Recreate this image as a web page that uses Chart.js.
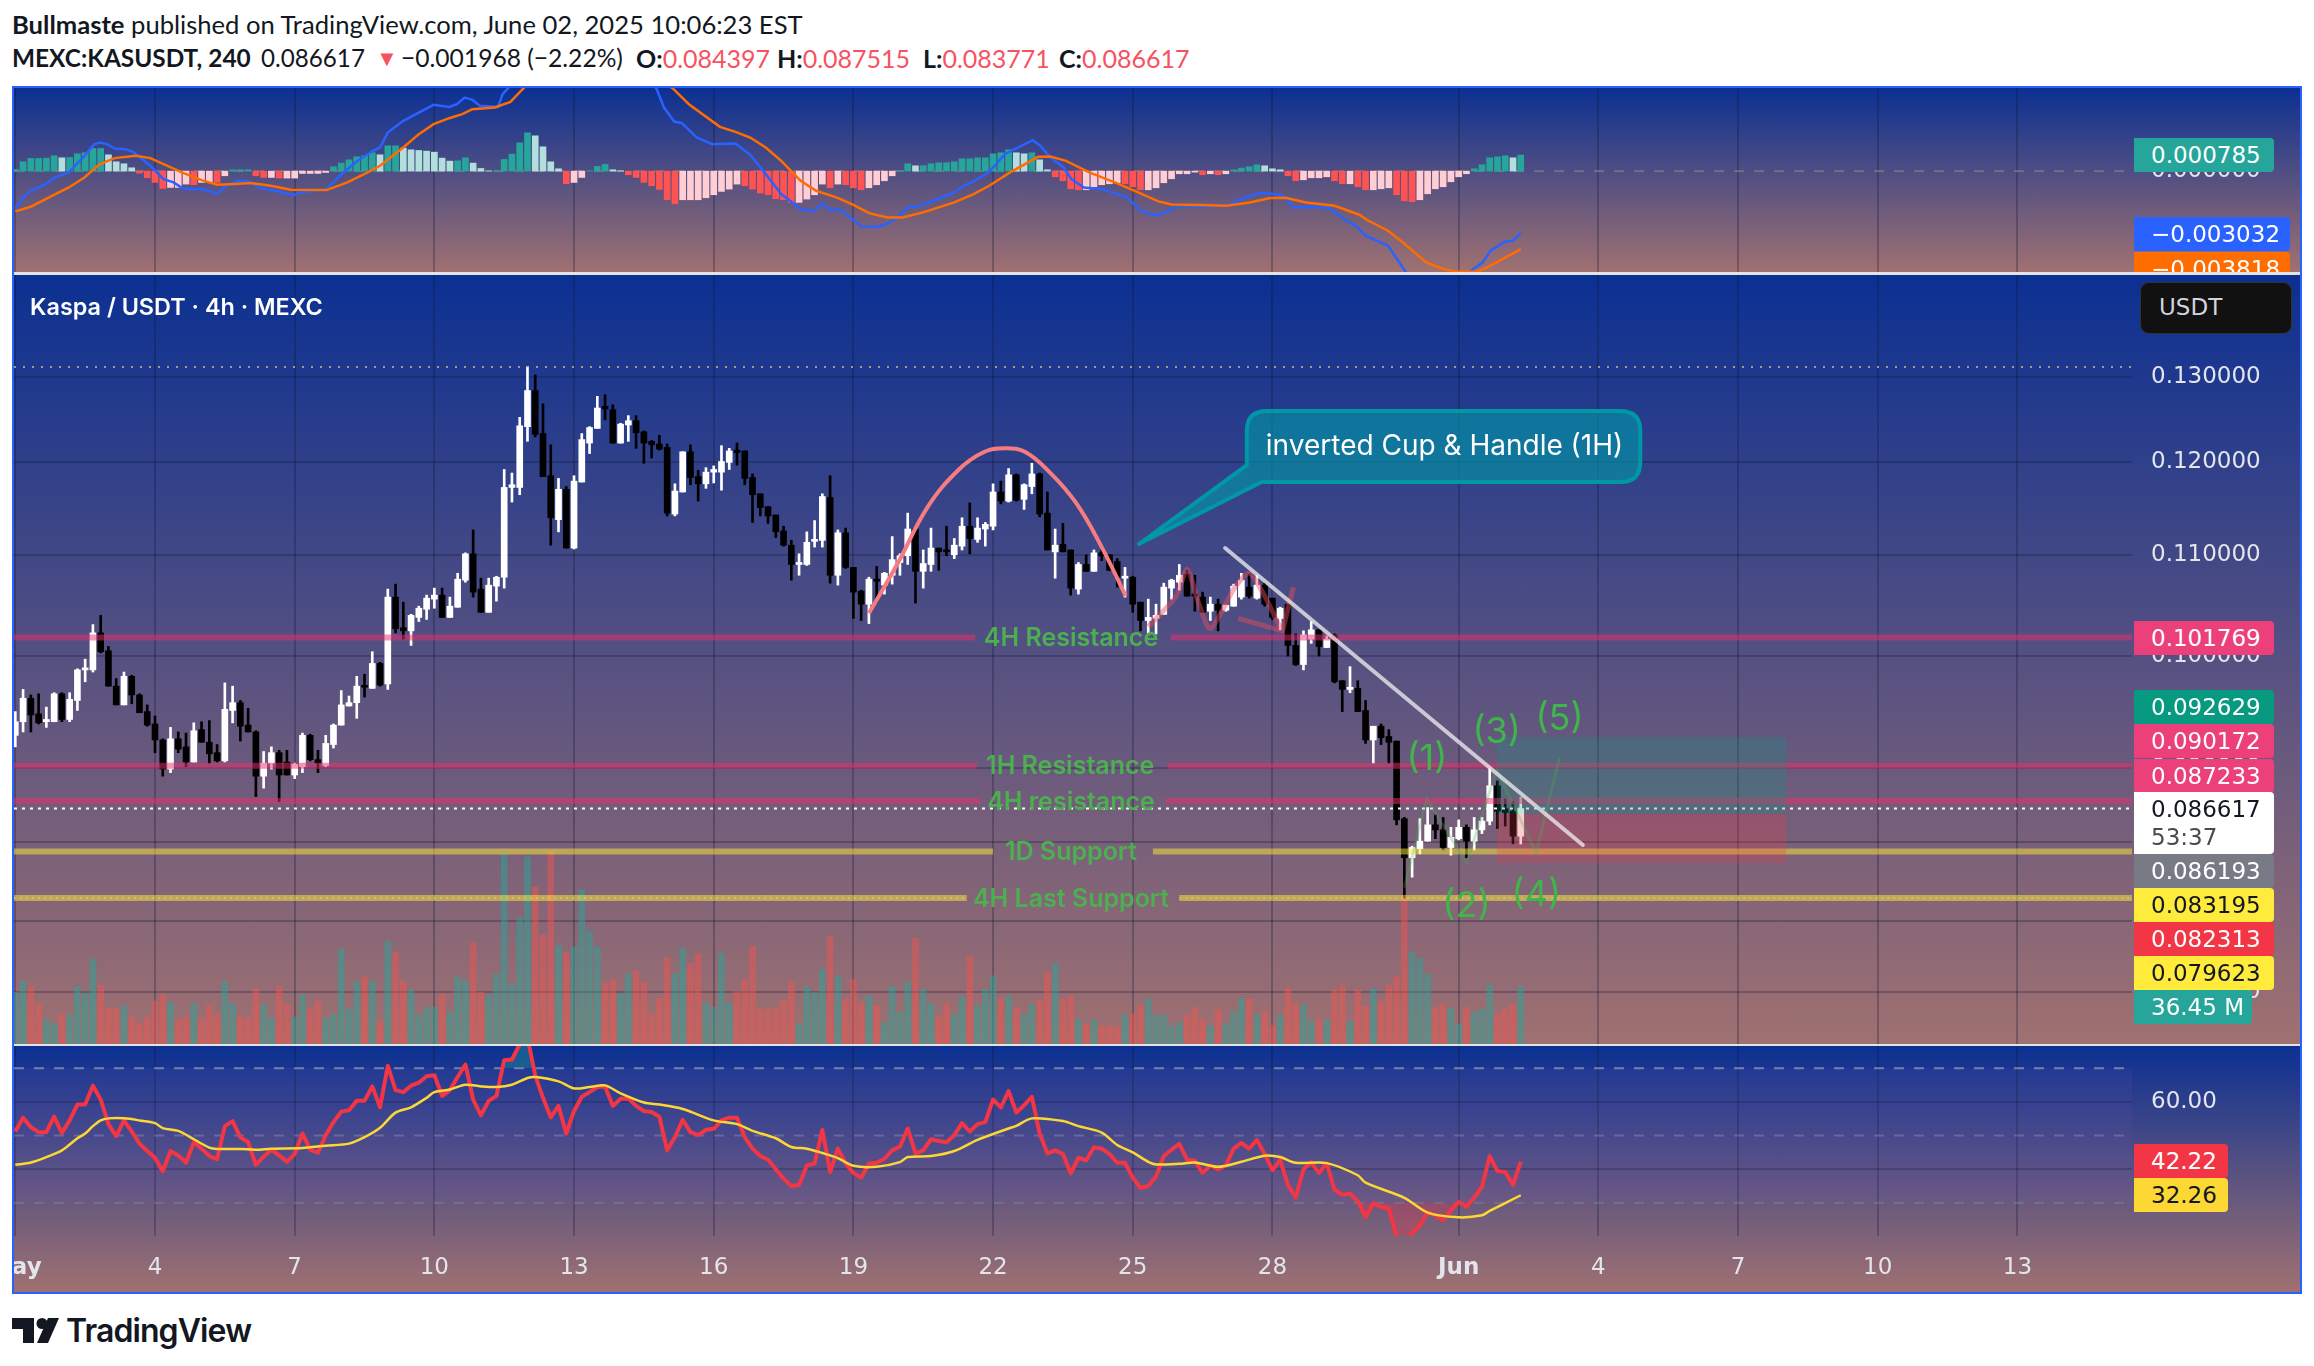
<!DOCTYPE html>
<html><head><meta charset="utf-8"><title>KASUSDT</title>
<script src="https://cdn.jsdelivr.net/npm/chart.js@4/dist/chart.umd.js"></script>
<style>
html,body{margin:0;padding:0;background:#fff;width:2314px;height:1366px;overflow:hidden;font-family:Inter,sans-serif}
.abs{position:absolute}
.pane{position:absolute;left:14px;width:2286px;background:linear-gradient(180deg,#0b3092 0%,#a07171 100%);overflow:hidden}
.pane canvas{position:absolute;left:0}
.frame{position:absolute;left:12px;top:86px;width:2286px;height:1204px;border:2.5px solid #2962ff;pointer-events:none}
.div{position:absolute;left:14px;width:2286px;height:2.5px;background:#e3e3e6}
.tag{position:absolute;left:2120px;width:140px;height:34px;line-height:34px;padding-left:17px;box-sizing:border-box;color:#fff;font:400 23px/34px "DejaVu Sans",sans-serif;border-radius:0 4px 4px 0;white-space:nowrap}
.head{position:absolute;left:12px;font:400 25.6px/34px Lato,sans-serif;color:#131722;white-space:nowrap}
.head b{font-weight:700}.head i{font-style:normal;color:#f7525f}
.head span{position:absolute;top:0}
</style></head><body>
<div class="head" style="top:7px"><b>Bullmaste</b> published on TradingView.com, June 02, 2025 10:06:23 EST</div>
<div class="head" style="top:41px;font-size:25px;height:34px;width:1200px">
<span style="left:0;font-size:24.4px"><b>MEXC:KASUSDT, 240</b></span>
<span style="left:249px;font-size:24.2px">0.086617</span>
<span style="left:364px;font-size:22px"><i>▼</i></span>
<span style="left:389px;font-size:24.6px">−0.001968 (−2.22%)</span>
<span style="left:624px"><b>O:</b><i>0.084397</i></span>
<span style="left:765px"><b>H:</b><i>0.087515</i></span>
<span style="left:911px"><b>L:</b><i>0.083771</i></span>
<span style="left:1047px"><b>C:</b><i>0.086617</i></span>
</div>

<div class="pane" id="paneMacd" style="top:88px;height:184px"><canvas id="macd"></canvas>
 <div class="tag" style="top:50px;background:#26a69a;border-radius:0 4px 4px 0">0.000785</div>
 <div class="tag" style="top:129px;width:156px;background:#2962ff">−0.003032</div>
 <div class="tag" style="top:163.5px;width:156px;background:#ff6d00">−0.003818</div>
</div>
<div class="pane" id="paneMain" style="top:274px;height:770px"><canvas id="main"></canvas>
 <div class="abs" style="left:16px;top:18px;font:600 23.4px/30px Inter,sans-serif;color:#fff">Kaspa / USDT · 4h · MEXC</div>
 <div class="abs" style="left:2126px;top:8px;width:152px;height:52px;box-sizing:border-box;background:#111;border:1.5px solid #333;border-radius:9px;color:#d1d4dc;font:400 23px/49px 'DejaVu Sans',sans-serif;padding-left:18px">USDT</div>
 <div class="tag" style="top:347px;background:#ec407a">0.101769</div>
 <div class="tag" style="top:416px;background:#089981">0.092629</div>
 <div class="tag" style="top:450px;background:#ec407a">0.090172</div>
 <div class="tag" style="top:484.5px;background:#ec407a">0.087233</div>
 <div class="tag" style="top:518px;height:62px;background:#fff;color:#131722">0.086617<div style="color:#4a4a4f;margin-top:-3px;line-height:28px">53:37</div></div>
 <div class="tag" style="top:580px;background:#787b86">0.086193</div>
 <div class="tag" style="top:614px;background:#ffeb3b;color:#131722">0.083195</div>
 <div class="tag" style="top:648px;background:#f23645">0.082313</div>
 <div class="tag" style="top:682px;background:#ffeb3b;color:#131722">0.079623</div>
 <div class="tag" style="top:716px;width:118px;background:#26a69a">36.45 M</div>
</div>
<div class="pane" id="paneRsi" style="top:1045px;height:248px"><canvas id="rsi"></canvas>
 <div class="tag" style="top:99px;width:94px;background:#f23645">42.22</div>
 <div class="tag" style="top:133px;width:94px;background:#fdd835;color:#131722">32.26</div>
</div>
<div class="div" style="top:272px"></div><div class="div" style="top:1043.5px"></div>
<div class="frame"></div>
<svg class="abs" style="left:12px;top:1317px" width="48" height="27" viewBox="0 0 48 27"><path fill="#131722" d="M0 1h22v25H11V12H0z"/><circle cx="30" cy="6.5" r="5.5" fill="#131722"/><path fill="#131722" d="M36 1h11L36 26H25z"/></svg>
<div class="abs" style="left:66px;top:1311px;font:600 32px/40px Inter,sans-serif;letter-spacing:-.9px;color:#131722">TradingView</div>

<script>
// ---- candles (USDT), May 1 00:00 onward, one per 4h
const opens=[.0928,.0940,.0961,.0947,.0940,.0940,.0965,.0942,.0959,.0987,
.0987,.1022,.1005,.0972,.0955,.0981,.0964,.0949,.0938,.0924,
.0899,.0925,.0918,.0905,.0933,.0922,.0913,.0906,.0950,.0957,
.0937,.0931,.0893,.0904,.0913,.0905,.0894,.0901,.0928,.0907,
.0902,.0920,.0937,.0954,.0957,.0972,.0970,.0993,.0974,.1057,
.1027,.1024,.1037,.1045,.1055,.1059,.1037,.1047,.1074,.1101,
.1065,.1042,.1068,.1077,.1172,.1172,.1241,.1284,.1233,.1185,
.1137,.1170,.1107,.1178,.1222,.1239,.1265,.1261,.1222,.1243,
.1248,.1235,.1224,.1221,.1217,.1143,.1167,.1212,.1184,.1176,
.1189,.1189,.1200,.1214,.1213,.1183,.1165,.1151,.1142,.1125,
.1110,.1090,.1090,.1114,.1115,.1161,.1079,.1123,.1087,.1063,
.1050,.1075,.1069,.1079,.1092,.1099,.1127,.1083,.1090,.1107,
.1105,.1100,.1109,.1130,.1116,.1127,.1130,.1167,.1157,.1186,
.1159,.1173,.1187,.1144,.1103,.1111,.1105,.1065,.1090,.1083,
.1102,.1100,.1093,.1076,.1077,.1052,.1034,.1036,.1040,.1066,
.1072,.1080,.1060,.1057,.1043,.1050,.1044,.1048,.1057,.1067,
.1056,.1069,.1056,.1036,.1050,.1010,.0992,.1016,.1025,.1008,
.1020,.0977,.0969,.0970,.0950,.0924,.0936,.0927,.0923,.0858,
.0827,.0834,.0840,.0853,.0849,.0835,.0842,.0851,.0840,.0849,
.0856,.0885,.0866,.0864,.084397];
const highs=[.0949,.0969,.0964,.0965,.0953,.0966,.0966,.0966,.0988,.0997,
.1030,.1039,.1009,.0979,.0985,.0982,.0965,.0955,.0945,.0925,
.0935,.0931,.0930,.0939,.0940,.0941,.0920,.0975,.0972,.0959,
.0952,.0932,.0914,.0918,.0915,.0915,.0904,.0930,.0929,.0915,
.0928,.0938,.0968,.0963,.0981,.0983,.1004,.0994,.1065,.1070,
.1052,.1040,.1048,.1059,.1066,.1066,.1057,.1081,.1102,.1126,
.1076,.1076,.1078,.1192,.1188,.1252,.1313,.1303,.1268,.1220,
.1182,.1173,.1185,.1233,.1241,.1277,.1279,.1267,.1245,.1254,
.1254,.1236,.1225,.1231,.1221,.1176,.1212,.1220,.1191,.1194,
.1196,.1219,.1216,.1222,.1213,.1187,.1165,.1151,.1142,.1130,
.1115,.1101,.1124,.1136,.1165,.1185,.1126,.1128,.1087,.1064,
.1077,.1088,.1082,.1119,.1101,.1144,.1127,.1105,.1128,.1107,
.1130,.1117,.1139,.1155,.1139,.1134,.1176,.1179,.1193,.1187,
.1176,.1199,.1188,.1167,.1127,.1133,.1105,.1092,.1100,.1105,
.1105,.1100,.1096,.1087,.1078,.1052,.1055,.1050,.1071,.1075,
.1090,.1084,.1079,.1062,.1057,.1055,.1049,.1070,.1081,.1080,
.1079,.1071,.1056,.1047,.1050,.1021,.1024,.1033,.1025,.1019,
.1021,.0977,.0990,.0977,.0959,.0936,.0938,.0933,.0923,.0859,
.0836,.0858,.0867,.0861,.0859,.0851,.0857,.0853,.0859,.0859,
.0900,.0889,.0874,.0872,.087515];
const lows=[.0918,.0931,.0931,.0938,.0935,.0940,.0940,.0940,.0950,.0976,
.0985,.1003,.0972,.0955,.0955,.0956,.0948,.0936,.0913,.0893,
.0896,.0913,.0901,.0905,.0922,.0904,.0905,.0905,.0939,.0923,
.0931,.0876,.0883,.0899,.0872,.0894,.0891,.0896,.0906,.0896,
.0901,.0917,.0937,.0954,.0943,.0962,.0970,.0972,.0969,.1022,
.1016,.1010,.1033,.1035,.1046,.1037,.1037,.1047,.1072,.1057,
.1042,.1042,.1053,.1066,.1156,.1164,.1224,.1229,.1184,.1110,
.1124,.1107,.1106,.1178,.1210,.1239,.1249,.1222,.1222,.1224,
.1216,.1199,.1205,.1214,.1141,.1141,.1167,.1175,.1157,.1171,
.1177,.1169,.1192,.1197,.1175,.1134,.1141,.1133,.1118,.1109,
.1074,.1079,.1089,.1108,.1108,.1071,.1069,.1086,.1036,.1034,
.1031,.1052,.1060,.1070,.1079,.1090,.1051,.1066,.1083,.1084,
.1099,.1096,.1105,.1101,.1113,.1109,.1126,.1154,.1156,.1157,
.1148,.1165,.1140,.1105,.1076,.1103,.1059,.1060,.1083,.1083,
.1094,.1084,.1067,.1057,.1042,.1024,.1020,.1021,.1040,.1055,
.1064,.1058,.1043,.1042,.1034,.1024,.1043,.1048,.1055,.1056,
.1055,.1048,.1035,.1025,.1000,.0991,.0987,.1012,.1000,.1008,
.0975,.0949,.0966,.0949,.0921,.0904,.0920,.0904,.0853,.0796,
.0812,.0830,.0840,.0842,.0833,.0829,.0841,.0827,.0833,.0846,
.0853,.0850,.0852,.0838,.083771];
const closes=[.0940,.0961,.0946,.0939,.0942,.0965,.0942,.0960,.0987,.0988,
.1022,.1004,.0972,.0955,.0981,.0964,.0948,.0937,.0924,.0899,
.0925,.0916,.0905,.0932,.0922,.0912,.0906,.0951,.0957,.0936,
.0931,.0893,.0904,.0913,.0894,.0894,.0903,.0928,.0907,.0904,
.0921,.0937,.0955,.0957,.0972,.0971,.0993,.0973,.1057,.1026,
.1024,.1039,.1046,.1056,.1059,.1037,.1048,.1075,.1101,.1062,
.1042,.1069,.1077,.1172,.1175,.1242,.1284,.1232,.1184,.1139,
.1170,.1107,.1179,.1226,.1240,.1263,.1262,.1222,.1244,.1248,
.1234,.1222,.1220,.1215,.1144,.1168,.1212,.1183,.1176,.1189,
.1192,.1201,.1213,.1211,.1182,.1164,.1150,.1141,.1124,.1110,
.1090,.1092,.1113,.1116,.1162,.1079,.1123,.1087,.1062,.1050,
.1075,.1073,.1081,.1095,.1099,.1127,.1083,.1091,.1107,.1103,
.1103,.1110,.1130,.1117,.1128,.1132,.1167,.1157,.1186,.1158,
.1175,.1187,.1143,.1105,.1110,.1103,.1066,.1090,.1083,.1102,
.1099,.1084,.1077,.1078,.1050,.1034,.1037,.1039,.1067,.1074,
.1079,.1058,.1058,.1042,.1050,.1044,.1049,.1068,.1074,.1058,
.1069,.1050,.1037,.1046,.1010,.0992,.1020,.1025,.1009,.1016,
.0976,.0969,.0971,.0949,.0924,.0936,.0926,.0922,.0857,.0827,
.0835,.0840,.0853,.0849,.0835,.0843,.0851,.0840,.0849,.0856,
.0885,.0864,.0863,.0844,.086617];
// ---- volume, millions
const volumes=[32.7,39.8,36.5,25.1,15.4,13.0,19.2,18.7,36.5,32.0,
53.7,37.2,22.7,22.7,24.4,17.3,13.0,17.0,27.2,31.2,
26.3,15.6,17.0,25.8,15.6,24.1,18.9,39.8,25.8,17.0,
16.6,35.0,24.9,16.6,36.5,24.9,17.0,31.2,22.0,27.2,
16.3,18.7,59.9,22.0,39.8,42.4,39.8,13.7,65.1,58.0,
39.8,34.1,18.2,23.2,23.2,31.5,20.4,42.4,39.8,63.9,
32.7,30.8,44.3,120.2,38.3,79.5,118.3,99.2,68.9,121.9,
62.2,57.7,61.3,97.3,71.2,61.3,38.3,40.7,32.0,44.3,
46.2,39.1,18.7,28.9,54.7,44.3,60.4,51.1,56.8,25.8,
23.2,57.5,25.8,33.1,40.7,61.8,22.5,21.8,23.2,27.7,
39.1,13.0,36.2,32.7,46.9,68.2,42.8,28.2,40.7,25.8,
30.5,24.1,13.7,36.5,20.1,39.1,67.0,34.3,25.8,17.5,
25.8,18.9,30.3,55.6,24.4,34.3,43.1,28.6,30.3,22.7,
18.5,24.9,27.7,45.2,50.9,28.2,30.5,15.4,12.5,14.9,
11.6,11.4,10.6,18.2,18.9,24.4,28.6,18.2,18.2,11.4,
13.7,18.0,23.2,15.4,11.4,22.0,13.0,20.4,29.1,28.7,
18.7,20.8,11.8,18.2,35.7,25.6,24.9,14.9,16.1,15.4,
34.3,36.9,14.4,34.3,23.9,35.0,26.7,37.4,42.4,93.0,
58.0,54.2,44.3,23.2,24.9,22.7,12.5,23.2,20.1,22.2,
37.4,19.2,22.0,24.9,36.45];
const volumeSide=("ggrrggrggg"+"grrrgrrrrr"+"grrgrrrggr"+"rrggrrggrr"+"gggggrgrgr"+"rggggrgggr"+"rggggggrrr"+"grggggrrgg"+"rrrrrggrrg"+"gggrrrrrrr"+"rggggrgrrr"+"grggggrggr"+"rggrgggrgr"+"ggrrgrrgrg"+"rrrgrrgggg"+"grrrgrgggr"+"grrgrrggrg"+"rrgrrgrrrr"+"gggrrggrgg"+"grrrg").split("");
// ---- RSI and its moving average
const rsiValues=[51.2,55.3,52.5,51.0,51.0,55.6,50.8,54.5,59.2,59.2,
64.8,60.7,53.4,49.8,54.5,51.2,47.6,45.4,43.4,39.4,
45.4,44.1,41.9,48.0,46.1,43.9,43.0,52.8,54.3,49.5,
48.0,41.3,43.7,45.8,44.1,42.2,44.5,50.6,45.8,44.9,
50.1,54.0,57.1,57.5,60.3,60.3,64.6,58.4,70.7,63.5,
62.9,64.8,65.7,67.6,67.9,61.8,63.5,67.4,71.1,60.7,
56.0,60.3,61.8,72.4,72.6,77.1,79.1,67.9,61.2,55.4,
58.8,50.6,57.3,61.5,62.9,64.4,64.6,58.8,60.9,61.0,
58.8,57.3,57.0,55.6,45.6,49.5,54.7,51.0,50.1,51.7,
52.0,54.5,55.3,55.3,49.5,46.1,43.9,42.8,40.0,37.2,
35.0,35.3,41.1,41.7,51.7,39.1,46.1,41.7,38.9,37.5,
41.7,41.9,43.1,45.6,46.7,52.1,44.7,45.6,48.9,48.4,
48.0,50.1,53.7,51.2,53.4,54.0,60.7,58.4,63.2,56.8,
59.0,61.5,50.6,44.7,45.6,44.5,38.7,43.4,42.6,46.5,
46.1,44.5,41.9,41.9,37.5,34.4,35.0,37.8,43.9,45.8,
47.5,42.8,42.5,38.9,41.1,40.0,41.1,46.1,47.8,46.1,
48.7,44.5,39.7,42.8,35.3,31.6,40.0,42.0,38.9,41.7,
33.9,32.4,32.7,30.5,25.8,29.9,28.8,28.3,19.9,17.7,
21.0,23.2,27.2,26.3,24.9,27.7,30.3,28.8,31.6,34.7,
43.9,39.4,39.2,35.3,42.22];
const rsiMaX=[0,2,4,6,8,9,10,11,12,14,16,18,19,21,23,25,26,29,31,33,37,40,43,45,47,49,51,53,54,56,58,60,62,64,66,67,70,72,74,76,78,81,83,86,90,93,95,98,100,102,104,106,108,111,114,115,118,121,124,128,129,131,135,137,140,142,144,146,147,150,152,155,158,161,163,165,169,173,174,179,182,186,189,190,194];
const rsiMaY=[41.3,42.0,43.6,45.6,49.2,50.6,52.8,54.5,55.1,55.1,54.5,53.7,52.2,51.4,48.9,46.4,46.0,46.0,45.8,46.1,46.3,47.0,47.6,49.5,52.3,56.8,58.4,61.2,62.9,63.7,65.1,64.6,64.4,65.1,67.1,67.4,66.1,64.0,64.4,64.9,62.5,59.8,59.2,57.9,54.5,53.4,51.4,49.2,46.6,46.1,44.8,43.3,41.0,40.7,42.1,43.6,43.9,45.4,48.7,52.1,52.9,55.1,54.3,52.8,50.9,47.2,45.0,42.2,41.4,41.6,42.0,40.7,42.2,44.0,43.6,41.9,41.8,38.2,36.0,31.5,27.1,25.7,26.3,27.6,32.26];
// ---- MACD
const macdHist=[.000082,.000456,.000619,.000619,.000636,.000750,.000652,.000668,.000848,.000897,
.001108,.001108,.000799,.000456,.000359,.000163,-.000098,-.000326,-.000554,-.000848,
-.000799,-.000799,-.000636,-.000668,-.000554,-.000522,-.000554,-.000228,.000065,.000065,
.000065,-.000228,-.000310,-.000310,-.000342,-.000342,-.000342,-.000114,-.000114,-.000114,
-.000065,.000212,.000391,.000554,.000701,.000750,.000897,.000799,.001239,.001239,
.001125,.001043,.001011,.000978,.000929,.000636,.000489,.000505,.000652,.000391,
.000130,.000016,.000016,.000570,.000831,.001385,.001875,.001728,.001190,.000456,
.000114,-.000619,-.000554,-.000310,.000016,.000228,.000326,.000065,.000016,-.000179,
-.000310,-.000554,-.000717,-.000897,-.001402,-.001597,-.001402,-.001402,-.001402,-.001304,
-.001157,-.000994,-.000880,-.000636,-.000717,-.000880,-.001076,-.001157,-.001353,-.001402,
-.001532,-.001532,-.001369,-.001157,-.000636,-.000815,-.000636,-.000668,-.000815,-.000913,
-.000815,-.000668,-.000473,-.000228,.000016,.000359,.000261,.000261,.000359,.000408,
.000408,.000456,.000603,.000603,.000652,.000652,.000848,.000897,.001043,.000897,
.000848,.000897,.000554,.000065,-.000277,-.000473,-.000864,-.000913,-.000913,-.000766,
-.000668,-.000619,-.000571,-.000619,-.000766,-.000913,-.000913,-.000815,-.000571,-.000375,
-.000130,-.000130,-.000049,-.000179,-.000130,-.000179,-.000130,.000065,.000147,.000212,
.000310,.000261,.000114,.000065,-.000228,-.000473,-.000424,-.000326,-.000326,-.000277,
-.000473,-.000619,-.000619,-.000766,-.000913,-.000913,-.000864,-.000815,-.001157,-.001451,
-.001500,-.001402,-.001108,-.000864,-.000766,-.000522,-.000277,-.000130,.000114,.000310,
.000652,.000701,.000750,.000652,.000785];
const macdX=[0,1,2,3.9,5.1,6.9,7.9,8.9,10.2,11,11.8,12.8,14.1,15.1,16.1,17.4,19.1,20.4,21.7,24,26,27.3,28.6,29.9,31.6,33.6,35.9,36.8,40.1,41.8,44.1,46.1,47,48,50,52,53.9,55.9,56.9,57.9,58.9,59.9,62.2,62.8,63.5,64.9,67.9,71.7,77,80.9,82.6,83.6,84.9,85.9,87.8,89.8,92.8,94.7,96.7,98.7,101.2,102.8,104,105.1,106.1,107.1,109,111.1,112.1,113.7,115,116.6,118.3,121,122.2,123.5,125.2,126.2,127.5,128.8,131.1,132.1,133.4,135.1,136.1,137.7,140,142,143.3,145,147,148.2,149.9,153.2,156.5,157.8,160.1,161.4,163.4,164.7,167,169.3,171,173,174,176.9,179.2,182.1,186.1,187.5,189.1,190.1,192,193,194];
const macdY=[-.001858,-.001288,-.000962,-.000636,-.000310,-.000065,.000342,.000750,.001320,.001402,.001320,.001108,.001076,.000962,.000668,.000261,-.000391,-.000554,-.000880,-.000880,-.001092,-.000685,-.000489,-.000489,-.000831,-.000962,-.001174,-.001043,-.000880,-.000228,.000505,.000994,.001157,.001891,.002461,.002869,.003244,.003146,.003276,.003602,.003488,.003195,.003146,.003765,.004059,.005069,.005884,.006210,.005558,.004580,.004059,.003113,.002429,.002347,.001646,.001320,.001353,.000799,-.000147,-.001125,-.001858,-.001972,-.001581,-.001940,-.001858,-.002103,-.002706,-.002722,-.002624,-.002266,-.001777,-.001695,-.001451,-.001043,-.000717,-.000505,-.000114,.000261,.000831,.001076,.001516,.001239,.000668,.000179,-.000391,-.000799,-.000880,-.001125,-.001288,-.001940,-.002184,-.002021,-.001695,-.001728,-.001646,-.001369,-.001092,-.001076,-.001206,-.001777,-.001744,-.001809,-.002298,-.002755,-.003162,-.003651,-.004955,-.005852,-.005852,-.004906,-.004466,-.003896,-.003439,-.003407,-.003032];
const signalX=[0,2,3.9,6.9,8.9,10.9,12.8,15.5,17.4,19.1,21.7,24,26,28.3,30.3,32.9,35.5,40.1,42.8,45.4,47,50,52,53.9,55.9,57.6,58.9,61.8,63.8,65.5,67.8,71.7,77,82.2,84.7,86.8,90.8,92.8,94.7,96.7,98.7,101.2,103.2,105.8,107.8,110.1,112.4,114.3,117,121,123.5,125.5,128.2,131.8,133.4,135.4,138.4,142,144.7,147.3,149,152.5,156.1,159.1,161.7,163.7,166.3,170,173.2,174.2,176.9,178.8,181.8,184,185.7,188.4,189.7,194];
const signalY=[-.001972,-.001744,-.001369,-.000799,-.000310,.000342,.000636,.000750,.000636,.000342,-.000098,-.000440,-.000668,-.000636,-.000587,-.000717,-.000913,-.000929,-.000554,-.000065,.000261,.001157,.001809,.002298,.002592,.002787,.003032,.003113,.003390,.004059,.005069,.006047,.005884,.004662,.004059,.003276,.002168,.001923,.001646,.001157,.000505,-.000473,-.000962,-.001288,-.001614,-.002070,-.002266,-.002266,-.002021,-.001532,-.001125,-.000717,-.000065,.000701,.000717,.000505,-.000065,-.000603,-.001043,-.001483,-.001630,-.001663,-.001695,-.001532,-.001320,-.001304,-.001532,-.001695,-.002135,-.002396,-.002918,-.003488,-.004466,-.004792,-.004923,-.004923,-.004711,-.003818];
// ---- axis ticks
const dayTicks=[0,18,36,54,72,90,108,126,144,162,186,204,222,240,258];
const dayLabels=["May","4","7","10","13","16","19","22","25","28","Jun","4","7","10","13"];
const priceTicks=[.13,.12,.11,.10,.09,.0839,.0779,.0729];
const rsiTicks=[60,40];
const macdTicks=[0];
// ---- drawings
const levelNames=["4H Resistance","1H Resistance","4H resistance","1D Support","4H Last Support"];
const levelPrices=[.101769,.090172,.087233,.083195,.079623];
const levelGapFrom=[123.7,123.9,124.4,126,122.6];
const levelGapTo=[148.9,148.5,148.2,146.6,150];
const cupX=[110,113.7,117.6,121.6,124.9,127.5,130.1,133.4,136.7,140,143.1];
const cupP=[.1041,.1091,.1151,.1192,.1212,.1216,.1212,.1188,.1155,.1108,.1058];
const handleX=[146,149.6,151,152.5,154,157.1,159,160.8,163];
const handleP=[.1028,.1058,.1085,.1051,.1026,.1066,.1081,.1061,.1027];
const arrowX=[157.6,163.3,164.7];
const arrowP=[.1036,.1024,.1067];
const trendX=[155.9,202];
const trendP=[.1107,.0837];
const waveX=[179,181.9,187,190.9,196,199];
const waveP=[.0804,.0874,.0823,.0898,.0831,.0909];
const waveLabels=["(1)","(2)","(3)","(4)","(5)"];
const waveLabelX=[181.9,187,190.9,196,199];
const waveLabelP=[.0907,.0790,.0931,.0798,.0942];
const posX=[190.9,228.2];
const posTarget=.092629, posEntry=.086193, posStop=.082313;
const highLine=.13127, lastPrice=.086617;

const X_MIN=-0.17,X_MAX=272.77,AXIS_W=168,FONT="Inter, sans-serif",NUMFONT="'DejaVu Sans', sans-serif";
Chart.defaults.font.family=FONT;
const GRID="rgba(15,20,50,.28)";
const xy=(xs,ys)=>xs.map((x,i)=>({x,y:ys[i]}));
const flat=(v)=>[{x:X_MIN,y:v},{x:X_MAX,y:v}];
const line=(o)=>Object.assign({type:"line",pointRadius:0,borderWidth:2,fill:false,tension:0},o);
const zero=s=>{s.paddingTop=s.paddingBottom=s.paddingLeft=s.paddingRight=0};
function xScale(h,showLabels){return{type:"linear",min:X_MIN,max:X_MAX,offset:false,
  grid:{color:GRID,lineWidth:2,drawTicks:false,offset:false},border:{display:false},
  afterBuildTicks:s=>{s.ticks=dayTicks.map(v=>({value:v}))},
  afterFit:s=>{zero(s);s.height=h},
  ticks:{display:showLabels,autoSkip:false,maxRotation:0,minRotation:0,padding:18,color:"#e3e5ec",
    font:c=>({family:NUMFONT,size:23,weight:(c.tick&&(c.tick.value===0||c.tick.value===186))?"600":"400"}),
    callback:v=>dayLabels[dayTicks.indexOf(v)]}}}
function yScale(extra,ticksList,fmt,grid){return Object.assign({position:"right",
  grid:{display:grid,color:GRID,lineWidth:2,drawTicks:false},border:{display:false},
  afterBuildTicks:s=>{s.ticks=ticksList.map(v=>({value:v}))},
  afterFit:s=>{zero(s);s.width=AXIS_W},
  ticks:{autoSkip:false,padding:19,color:"#e3e5ec",font:{family:NUMFONT,size:23},callback:fmt}},extra)}
const baseOpts={responsive:false,animation:false,devicePixelRatio:1,layout:{padding:0,autoPadding:false},
  plugins:{legend:{display:false},tooltip:{enabled:false}}};
function make(id,w,h,datasets,scales,plugins){const c=document.getElementById(id);c.width=w;c.height=h;c.style.width=w+"px";c.style.height=h+"px";
  return new Chart(c,{type:"bar",data:{datasets},options:Object.assign({},baseOpts,{scales}),plugins:plugins||[]})}

// ---- MACD pane
const histColors=macdHist.map((v,i)=>{const p=i?macdHist[i-1]:0;return v>=0?(v>=p?"#26a69a":"#b2dfdb"):(v<p?"#ff5252":"#ffcdd2")});
make("macd",2286,184,[
  line({data:flat(0),borderColor:"rgba(120,123,134,.75)",borderDash:[10,10],order:5}),
  {label:"Histogram",data:xy(macdHist.map((_,i)=>i),macdHist),backgroundColor:histColors,barThickness:6,order:4},
  line({label:"MACD",data:xy(macdX,macdY),borderColor:"#2962ff",borderWidth:2.5,order:2}),
  line({label:"Signal",data:xy(signalX,signalY),borderColor:"#ff6d00",borderWidth:2.5,order:1})
],{x:xScale(0,false),y:yScale({type:"linear",min:-.00494,max:.00407},macdTicks,v=>v.toFixed(6),false)});

// ---- price + volume pane
const idx=opens.map((_,i)=>i);
const candleColor=opens.map((o,i)=>closes[i]>=o?"#ffffff":"#000000");
const levelData=levelPrices.map((p,i)=>[{x:X_MIN,y:p},{x:levelGapFrom[i],y:p},{x:levelGapFrom[i],y:null},{x:levelGapTo[i],y:p},{x:X_MAX,y:p}]);
const levelCol=["rgba(236,45,105,.5)","rgba(236,45,105,.5)","rgba(236,45,105,.5)","rgba(255,235,59,.5)","rgba(255,235,59,.5)"];
const drawings={id:"drawings",afterDatasetsDraw(ch){
  const c=ch.ctx,X=ch.scales.x,Y=ch.scales.y;c.save();
  const mid=levelNames.map((_,i)=>(levelGapFrom[i]+levelGapTo[i])/2);
  c.textAlign="center";c.textBaseline="middle";c.fillStyle="#4caf50";c.font="600 25px "+FONT;
  levelNames.forEach((t,i)=>c.fillText(t,X.getPixelForValue(mid[i])-2,Y.getPixelForValue(levelPrices[i])+1));
  c.fillStyle="#3fb54a";c.font="400 36px "+FONT;
  waveLabels.forEach((t,i)=>c.fillText(t,X.getPixelForValue(waveLabelX[i]),Y.getPixelForValue(waveLabelP[i])));
  // callout, anchored in data space
  const l=X.getPixelForValue(158.7),r=X.getPixelForValue(209.4),t=Y.getPixelForValue(.12595),b=Y.getPixelForValue(.1178),
    tx=X.getPixelForValue(144.8),ty=Y.getPixelForValue(.11112),by=Y.getPixelForValue(.1197),bx=X.getPixelForValue(160.6),R=20;
  c.beginPath();c.moveTo(l+R,t);c.lineTo(r-R,t);c.quadraticCurveTo(r,t,r,t+R);c.lineTo(r,b-R);c.quadraticCurveTo(r,b,r-R,b);
  c.lineTo(bx,b);c.lineTo(tx,ty);c.lineTo(l,by);c.lineTo(l,t+R);c.quadraticCurveTo(l,t,l+R,t);c.closePath();
  c.fillStyle="rgba(0,151,167,.62)";c.strokeStyle="#0097a7";c.lineWidth=4;c.lineJoin="round";c.fill();c.stroke();
  c.fillStyle="#fff";c.font="400 28px "+FONT;c.fillText("inverted Cup & Handle (1H)",(l+r)/2+1,(t+b)/2);
  c.restore();}};
make("main",2286,770,[
  {label:"Volume",yAxisID:"v",data:xy(idx,volumes),backgroundColor:volumeSide.map(s=>s==="g"?"rgba(38,166,154,.5)":"rgba(239,83,80,.5)"),barThickness:6,order:20,grouped:false},
  {label:"Wick",data:idx.map(i=>({x:i,y:[lows[i],highs[i]]})),backgroundColor:candleColor,barThickness:2,order:18,grouped:false},
  {label:"Body",data:idx.map(i=>({x:i,y:[opens[i],closes[i]]})),backgroundColor:candleColor,barThickness:6,minBarLength:2,order:17,grouped:false},
  line({data:flat(highLine),borderColor:"rgba(215,200,140,.7)",borderDash:[2,7],order:16}),
  line({data:flat(lastPrice),borderColor:"#fff",borderDash:[3,5],order:16}),
  ...levelData.map((d,i)=>line({label:levelNames[i],data:d,borderColor:levelCol[i],borderWidth:6,spanGaps:false,order:15})),
  line({data:levelData[4],borderColor:"rgba(235,220,140,.4)",borderWidth:2,borderDash:[2,4],spanGaps:false,order:14}),
  line({label:"Target",data:[{x:posX[0],y:posTarget},{x:posX[1],y:posTarget}],borderWidth:0,fill:{value:posEntry},backgroundColor:"rgba(8,153,129,.25)",order:13}),
  line({label:"Stop",data:[{x:posX[0],y:posEntry},{x:posX[1],y:posEntry}],borderWidth:0,fill:{value:posStop},backgroundColor:"rgba(242,54,69,.25)",order:13}),
  line({label:"Waves",data:xy(waveX,waveP),borderColor:"rgba(76,175,80,.28)",borderWidth:3,order:12}),
  line({label:"Handle",data:xy(handleX,handleP),borderColor:"rgba(238,75,90,.45)",borderWidth:5,tension:.25,order:11}),
  line({label:"Handle end",data:xy(arrowX,arrowP),borderColor:"rgba(238,75,90,.45)",borderWidth:5,order:11}),
  line({label:"Cup",data:xy(cupX,cupP),borderColor:"#f77c80",borderWidth:4,tension:.4,order:10}),
  line({label:"Trend",data:xy(trendX,trendP),borderColor:"rgba(235,235,235,.78)",borderWidth:4,borderCapStyle:"round",order:9})
],{x:xScale(0,false),
  y:yScale({type:"logarithmic",bounds:"data",min:.1*Math.exp(-388/1062),max:.1*Math.exp(382/1062)},priceTicks,v=>v.toFixed(6),true),
  v:{type:"linear",display:false,min:0,max:486.6}},[drawings]);

// ---- RSI pane
make("rsi",2286,248,[
  line({data:flat(70),borderColor:"rgba(190,190,195,.55)",borderDash:[10,10],fill:{value:30},backgroundColor:"rgba(126,87,194,.1)",order:9}),
  line({data:flat(50),borderColor:"rgba(190,190,195,.3)",borderDash:[10,10],order:9}),
  line({data:flat(30),borderColor:"rgba(120,135,140,.55)",borderDash:[10,10],order:9}),
  line({label:"RSI over",data:xy(idx,rsiValues),borderWidth:0,fill:{value:70,above:"rgba(38,166,154,.35)",below:"rgba(0,0,0,0)"},order:8}),
  line({label:"RSI under",data:xy(idx,rsiValues),borderWidth:0,fill:{value:30,above:"rgba(0,0,0,0)",below:"rgba(242,54,69,.3)"},order:8}),
  line({label:"RSI",data:xy(idx,rsiValues),borderColor:"#f23645",borderWidth:4,borderJoinStyle:"round",order:2}),
  line({label:"RSI MA",data:xy(rsiMaX,rsiMaY),borderColor:"#fdd835",borderWidth:2.5,tension:.3,order:1})
],{x:xScale(57,true),y:yScale({type:"linear",min:20.15,max:76.9},rsiTicks,v=>v.toFixed(2),true)});
</script>
</body></html>
